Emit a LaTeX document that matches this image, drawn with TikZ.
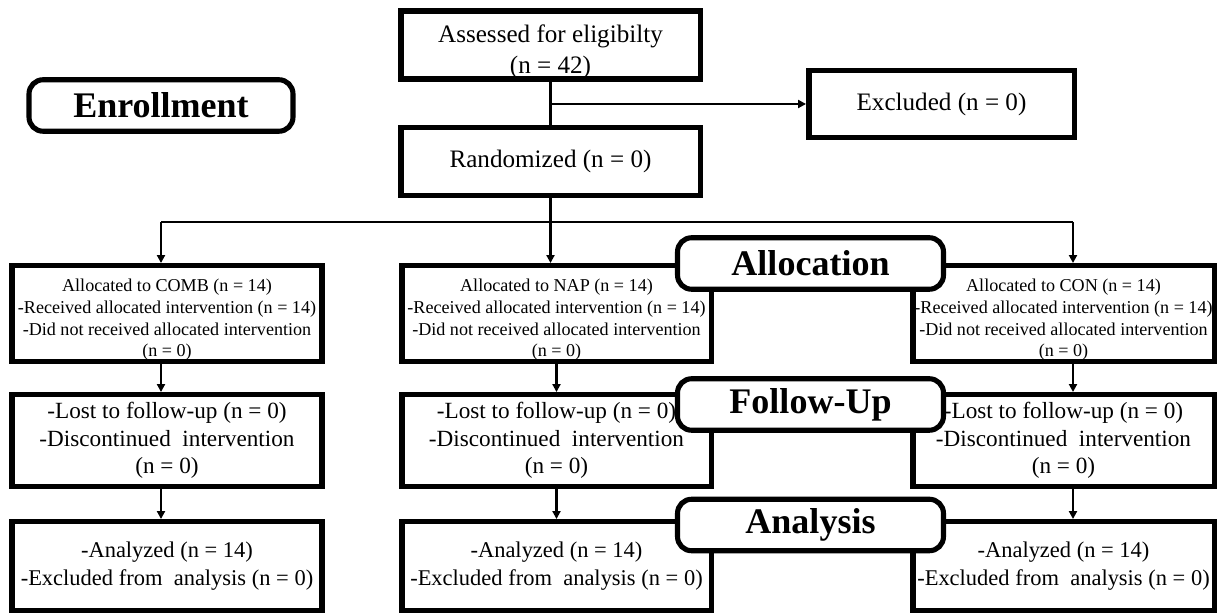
\documentclass[tikz,border=0pt]{standalone}
\usepackage{fontspec}
\setmainfont{Liberation Serif}
\usetikzlibrary{arrows.meta}
\newcommand\lowstrut[1]{\rule{0pt}{#1}}
\begin{document}
\begin{tikzpicture}[x=0.02cm,y=-0.02cm,
    box/.style={draw,line width=3.1pt,inner sep=0pt,align=center,fill=white},
    topbox/.style={box,font=\fontsize{14.3}{17.6}\selectfont},
    stagebox/.style={draw,line width=2.9pt,rounded corners=8pt,fill=white,inner sep=0pt,
      minimum width=5.32cm,minimum height=1.03cm,font=\fontsize{20.5}{24}\selectfont\bfseries},
    allocbox/.style={box,minimum height=1.91cm,font=\fontsize{10.3}{12.3}\selectfont},
    followbox/.style={box,minimum height=1.83cm,font=\fontsize{13.2}{15.6}\selectfont},
    analysisbox/.style={box,minimum height=1.77cm,font=\fontsize{12.8}{16}\selectfont},
    link/.style={line width=1.2pt},
    arr/.style={link,-{Triangle[length=4.5pt,width=4.5pt]}}]
    \useasboundingbox (0,0) rectangle (1218,614);
    \node[stagebox,minimum width=5.28cm] (enroll) at (161,105.5) {Enrollment};
    \node[topbox,minimum width=5.99cm,minimum height=1.36cm] (assess) at (550.5,45)
    {\lowstrut{1.22em}Assessed for eligibilty\\(n = 42)};
    \node[topbox,minimum width=5.99cm,minimum height=1.35cm] (rand) at (550.5,161.5)
    {Randomized (n = 0)};
    \node[topbox,minimum width=5.31cm,minimum height=1.33cm] (excl) at (941.5,104)
    {Excluded (n = 0)};
    \node[allocbox,minimum width=6.2cm] (comb1) at (167,313.5)
    {\lowstrut{1.4em}Allocated to COMB (n = 14)\\-Received allocated intervention (n = 14)\\-Did not received allocated intervention\\(n = 0)};
    \node[allocbox,minimum width=6.19cm] (nap1) at (556.5,313.5)
    {\lowstrut{1.4em}Allocated to NAP (n = 14)\\-Received allocated intervention (n = 14)\\-Did not received allocated intervention\\(n = 0)};
    \node[allocbox,minimum width=6.03cm] (con1) at (1063.5,313.5)
    {\lowstrut{1.4em}Allocated to CON (n = 14)\\-Received allocated intervention (n = 14)\\-Did not received allocated intervention\\(n = 0)};
    \node[followbox,minimum width=6.2cm] (comb2) at (167,440.5)
    {-Lost to follow-up (n = 0)\\-Discontinued\ \ intervention\\(n = 0)};
    \node[followbox,minimum width=6.19cm] (nap2) at (556.5,440.5)
    {-Lost to follow-up (n = 0)\\-Discontinued\ \ intervention\\(n = 0)};
    \node[followbox,minimum width=6.03cm] (con2) at (1063.5,440.5)
    {-Lost to follow-up (n = 0)\\-Discontinued\ \ intervention\\(n = 0)};
    \node[analysisbox,minimum width=6.2cm] (comb3) at (167,566)
    {-Analyzed (n = 14)\\-Excluded from\ \ analysis (n = 0)};
    \node[analysisbox,minimum width=6.19cm] (nap3) at (556.5,566)
    {-Analyzed (n = 14)\\-Excluded from\ \ analysis (n = 0)};
    \node[analysisbox,minimum width=6.03cm] (con3) at (1063.5,566)
    {-Analyzed (n = 14)\\-Excluded from\ \ analysis (n = 0)};
    \node[stagebox] (alloc) at (810.5,263.5) {Allocation};
    \node[stagebox] (follow) at (810.5,404.5) {Follow-Up};
    \node[stagebox] (analysis) at (810.5,525) {Analysis};
    \coordinate (split) at (550.5,222);
    \coordinate (lcorner) at (161,222);
    \coordinate (rcorner) at (1073,222);
    \draw[link] (assess) -- (rand) (rand) -- (split) (lcorner) -- (rcorner);
    \draw[arr] (assess.south |- excl.west) -- (excl.west);
    \draw[arr] (lcorner) -- (lcorner |- comb1.north);
    \draw[arr] (split) -- (split |- nap1.north);
    \draw[arr] (rcorner) -- (rcorner |- con1.north);
    \draw[arr] (lcorner |- comb1.south) -- (lcorner |- comb2.north);
    \draw[arr] (nap1) -- (nap2);
    \draw[arr] (rcorner |- con1.south) -- (rcorner |- con2.north);
    \draw[arr] (lcorner |- comb2.south) -- (lcorner |- comb3.north);
    \draw[arr] (nap2) -- (nap3);
    \draw[arr] (rcorner |- con2.south) -- (rcorner |- con3.north);
\end{tikzpicture}
\end{document}
